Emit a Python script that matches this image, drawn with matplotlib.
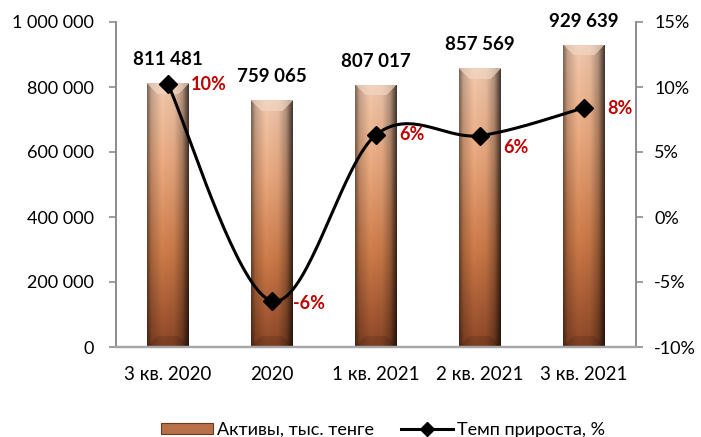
import numpy as np
import matplotlib
matplotlib.use("Agg")
import matplotlib.pyplot as plt
from matplotlib.colors import to_rgb
from matplotlib.patches import Patch
from matplotlib.lines import Line2D

categories = ["3 кв. 2020", "2020", "1 кв. 2021", "2 кв. 2021", "3 кв. 2021"]
assets = [811481, 759065, 807017, 857569, 929639]
growth = [10.2, -6.46, 6.32, 6.26, 8.4]
growth_labels = ["10%", "-6%", "6%", "6%", "8%"]
asset_ticks = [0, 200000, 400000, 600000, 800000, 1000000]
pct_ticks = [-10, -5, 0, 5, 10, 15]

plt.rcParams["font.family"] = ["Lato", "Noto Sans", "DejaVu Sans"]

W, H, DPI = 701, 437, 100
fig = plt.figure(figsize=(W / DPI, H / DPI), dpi=DPI)
ax = fig.add_axes([116 / W, 1 - 347 / H, 520 / W, 325 / H])
ax2 = ax.twinx()

x = np.arange(len(categories))
bar_w = 0.4
bars = ax.bar(x, assets, width=bar_w, facecolor="none", edgecolor="none", zorder=2)
ax.set_xlim(-0.5, len(categories) - 0.5)
ax.set_ylim(0, 1000000)


def bar_image(wpx, hpx, bev=11):
    # vertical colour ramp, light peach on top to dark brown at bottom
    t = np.linspace(0, 1, hpx)
    stops = [0, 0.3, 0.65, 1]
    cols = np.array([to_rgb(c) for c in ["#E6C0A6", "#E0A27A", "#C47545", "#874425"]])
    base = np.stack([np.interp(t, stops, cols[:, k]) for k in range(3)], axis=1)
    s = np.linspace(0, 1, wpx)
    shade = np.interp(s, [0, 0.1, 0.35, 0.65, 0.85, 1], [0.55, 0.85, 1.05, 1.0, 0.75, 0.3])
    img = base[:, None, :] * shade[None, :, None]
    i = np.arange(hpx)[:, None]
    j = np.arange(wpx)[None, :]
    d_t, d_b, d_l, d_r = i, hpx - 1 - i, j, wpx - 1 - j
    top = (d_t < bev) & (d_t <= d_l) & (d_t <= d_r)
    bot = (d_b < bev) & (d_b <= d_l) & (d_b <= d_r)
    light = np.array(to_rgb("#F4D8C6"))
    img[top] = img[top] * 0.35 + light * 0.65
    img[bot] = img[bot] * 0.88
    return np.clip(img, 0, 1)


px_per_x = 520 / len(categories)
for b in bars:
    x0, w, hval = b.get_x(), b.get_width(), b.get_height()
    wpx = int(round(w * px_per_x))
    hpx = max(int(round(hval / 1000000 * 325)), 2)
    im = ax.imshow(bar_image(wpx, hpx), extent=[x0, x0 + w, 0, hval],
                   aspect="auto", interpolation="bilinear", zorder=2)
    im.set_clip_path(b)
ax.set_xlim(-0.5, len(categories) - 0.5)
ax.set_ylim(0, 1000000)

for xi, v in zip(x, assets):
    ax.annotate(f"{v:,}".replace(",", " "), (xi, v), xytext=(0, 17),
                textcoords="offset points", ha="center", va="center",
                fontsize=13.5, fontweight="bold", color="black", zorder=5)


def smooth(xs, ys, n=40):
    # Catmull-Rom curve through the points, like a smoothed office line
    p = np.column_stack([xs, ys]).astype(float)
    p = np.vstack([p[0], p, p[-1]])
    out = []
    for k in range(1, len(p) - 2):
        p0, p1, p2, p3 = p[k - 1], p[k], p[k + 1], p[k + 2]
        tt = np.linspace(0, 1, n)[:, None]
        seg = 0.5 * ((2 * p1) + (-p0 + p2) * tt + (2 * p0 - 5 * p1 + 4 * p2 - p3) * tt ** 2
                     + (-p0 + 3 * p1 - 3 * p2 + p3) * tt ** 3)
        out.append(seg)
    out = np.vstack(out)
    return out[:, 0], out[:, 1]


sx, sy = smooth(x, growth)
ax2.plot(sx, sy, color="black", lw=2.2, zorder=3)
ax2.plot(x, growth, ls="none", marker="D", markersize=9, color="black", zorder=4)
ax2.set_ylim(-10, 15)
ax2.set_xlim(-0.5, len(categories) - 0.5)

pct_offsets = [(16.5, 0), (15, -1.5), (17, 0), (16.5, -8.5), (16.5, -0.7)]
for xi, v, lab, off in zip(x, growth, growth_labels, pct_offsets):
    ax2.annotate(lab, (xi, v), xytext=off, textcoords="offset points",
                 ha="left", va="center", fontsize=13, fontweight="bold",
                 color="#C00000", zorder=5)

grey = "#8C8C8C"
for a in (ax, ax2):
    a.spines["top"].set_visible(False)
    a.spines["left"].set_color(grey)
    a.spines["right"].set_color(grey)
    a.spines["bottom"].set_color("#A6A6A6")
    a.spines["left"].set_linewidth(1.2)
    a.spines["right"].set_linewidth(1.2)
    a.spines["bottom"].set_linewidth(1.6)

ax.set_xticks(x)
ax.set_xticklabels(categories, fontsize=13.5)
ax.tick_params(axis="x", length=0, pad=14)
ax.set_yticks(asset_ticks)
ax.set_yticklabels([f"{v:,}".replace(",", " ") for v in asset_ticks], fontsize=13)
ax.tick_params(axis="y", length=5, width=1.2, color=grey, pad=11)
ax2.set_yticks(pct_ticks)
ax2.set_yticklabels([f"{v}%" for v in pct_ticks], fontsize=13)
ax2.tick_params(axis="y", length=5, width=1.2, color=grey, pad=8)

handles = [Patch(facecolor="#B87048", edgecolor="#6B3A1E", linewidth=0.8),
           Line2D([], [], color="black", lw=2.2, marker="D", markersize=7)]
fig.legend(handles, ["Активы, тыс. тенге", "Темп прироста, %"],
           loc="center", bbox_to_anchor=(383 / W, 7 / H), ncol=2, frameon=False,
           fontsize=13, handlelength=2.9, handleheight=0.5, handletextpad=0.2,
           columnspacing=1.5, borderpad=0)

fig.savefig("out.png", dpi=DPI)
